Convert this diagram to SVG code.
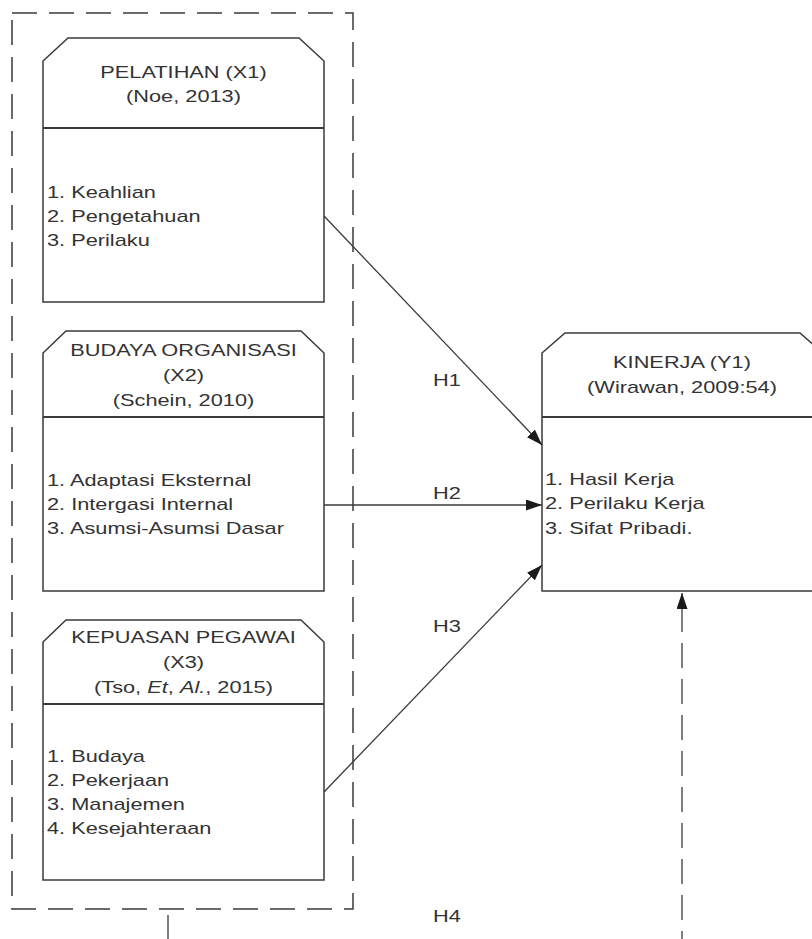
<svg xmlns="http://www.w3.org/2000/svg" width="812" height="939" viewBox="0 0 812 939">
<style>
.box{fill:#fff;stroke:#3a3a3a;stroke-width:1.5}
.div{stroke:#3a3a3a;stroke-width:2;fill:none}
.t{font-family:"Liberation Sans",Arial,sans-serif;font-size:17px;fill:#333}
.c{text-anchor:middle}
.con{stroke:#3a3a3a;stroke-width:1.3;fill:none}
.dash{stroke-dasharray:25 12}
</style>
<defs>
<marker id="ah" markerUnits="userSpaceOnUse" markerWidth="16" markerHeight="11" refX="16" refY="5.5" orient="auto">
<path d="M0,0 L16,5.5 L0,11 Z" fill="#1a1a1a"/>
</marker>
<marker id="ahs" markerUnits="userSpaceOnUse" markerWidth="16" markerHeight="11" refX="16" refY="5.5" orient="auto-start-reverse">
<path d="M0,0 L16,5.5 L0,11 Z" fill="#1a1a1a"/>
</marker>
</defs>
<rect id="group-x" x="12" y="13" width="341" height="896" fill="none" stroke="#3a3a3a" stroke-width="1.5" class="dash"/>
<g id="pelatihan">
<path class="box" d="M43,61 L68,38 L299,38 L324,61 V302 H43 Z"/>
<path class="div" d="M43,128 H324"/>
<text class="t c" transform="translate(183.5,78) scale(1.28,1)">PELATIHAN (X1)</text>
<text class="t c" transform="translate(183.5,102) scale(1.28,1)">(Noe, 2013)</text>
<text class="t" transform="translate(47,197.5) scale(1.28,1)">1. Keahlian</text>
<text class="t" transform="translate(47,221.8) scale(1.28,1)">2. Pengetahuan</text>
<text class="t" transform="translate(47,246) scale(1.28,1)">3. Perilaku</text>
</g>
<g id="budaya">
<path class="box" d="M43,353 L66,331 L301,331 L324,353 V591 H43 Z"/>
<path class="div" d="M43,417 H324"/>
<text class="t c" transform="translate(183.5,356) scale(1.28,1)">BUDAYA ORGANISASI</text>
<text class="t c" transform="translate(183.5,381) scale(1.28,1)">(X2)</text>
<text class="t c" transform="translate(183.5,406) scale(1.28,1)">(Schein, 2010)</text>
<text class="t" transform="translate(47,485.7) scale(1.28,1)">1. Adaptasi Eksternal</text>
<text class="t" transform="translate(47,510) scale(1.28,1)">2. Intergasi Internal</text>
<text class="t" transform="translate(47,534.3) scale(1.28,1)">3. Asumsi-Asumsi Dasar</text>
</g>
<g id="kepuasan">
<path class="box" d="M43,642 L66,620 L301,620 L324,642 V880 H43 Z"/>
<path class="div" d="M43,704 H324"/>
<text class="t c" transform="translate(183.5,643) scale(1.28,1)">KEPUASAN PEGAWAI</text>
<text class="t c" transform="translate(183.5,668) scale(1.28,1)">(X3)</text>
<text class="t c" transform="translate(183.5,693) scale(1.28,1)">(Tso, <tspan font-style="italic">Et</tspan>, <tspan font-style="italic">Al.</tspan>, 2015)</text>
<text class="t" transform="translate(47,761.7) scale(1.28,1)">1. Budaya</text>
<text class="t" transform="translate(47,785.7) scale(1.28,1)">2. Pekerjaan</text>
<text class="t" transform="translate(47,810) scale(1.28,1)">3. Manajemen</text>
<text class="t" transform="translate(47,834.3) scale(1.28,1)">4. Kesejahteraan</text>
</g>
<g id="kinerja">
<path class="box" d="M542,353 L565,333 L800,333 L823,353 V591 H542 Z"/>
<path class="div" d="M542,417 H823"/>
<text class="t c" transform="translate(682,368) scale(1.28,1)">KINERJA (Y1)</text>
<text class="t c" transform="translate(682,393) scale(1.28,1)">(Wirawan, 2009:54)</text>
<text class="t" transform="translate(545,485) scale(1.28,1)">1. Hasil Kerja</text>
<text class="t" transform="translate(545,509.3) scale(1.28,1)">2. Perilaku Kerja</text>
<text class="t" transform="translate(545,534.3) scale(1.28,1)">3. Sifat Pribadi.</text>
</g>
<g id="connectors">
<path class="con" d="M324,216 L542,445" marker-end="url(#ah)"/>
<path class="con" d="M324,505 L542,505" marker-end="url(#ah)"/>
<path class="con" d="M324,792 L542,565" marker-end="url(#ah)"/>
<path class="con" d="M682,593 V939" stroke-dasharray="25 11" stroke-dashoffset="22" marker-start="url(#ahs)"/>
<path class="con" d="M168,915 V939"/>
<text class="t c" transform="translate(447,386) scale(1.28,1)">H1</text>
<text class="t c" transform="translate(447,498.5) scale(1.28,1)">H2</text>
<text class="t c" transform="translate(447,631.7) scale(1.28,1)">H3</text>
<text class="t c" transform="translate(447,921.7) scale(1.28,1)">H4</text>
</g>
</svg>
